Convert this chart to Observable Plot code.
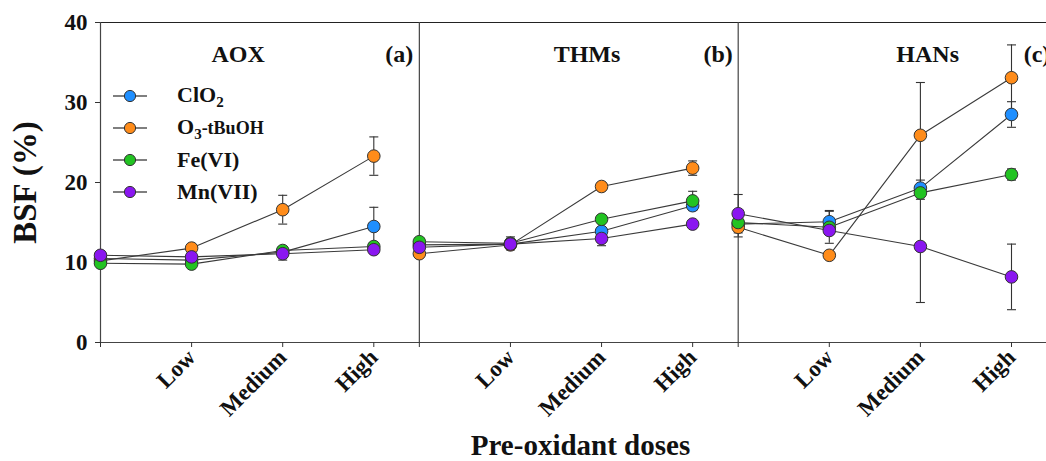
<!DOCTYPE html>
<html>
<head>
<meta charset="utf-8">
<script src="https://cdn.jsdelivr.net/npm/d3@7"></script>
<script src="https://cdn.jsdelivr.net/npm/@observablehq/plot@0.6"></script>
<style>
  html, body { margin: 0; padding: 0; background: #fff; overflow: hidden; }
  #wrap { position: relative; width: 1046px; height: 461px; font-family: "Liberation Serif", "Times New Roman", serif; }
  #legend { position: absolute; left: 0; top: 0; }
  .row { position: absolute; display: flex; align-items: center; font-weight: bold; font-size: 22px; color: #111; white-space: nowrap; }
  .row svg { display: block; }
  .row span.lab { position: absolute; left: 64px; }
</style>
</head>
<body>
<div id="wrap"><div id="legend"></div></div>
<script>
// ---------- data ----------
const doses = ["", "Low", "Medium", "High"];
const panels = ["AOX", "THMs", "HANs"];
const panelTags = ["(a)", "(b)", "(c)"];
const series = ["ClO2", "O3-tBuOH", "Fe(VI)", "Mn(VII)"];

// rows follow `series`; columns follow `doses`
const aoxMean = [
  [10.5, 10.3, 11.3, 14.5],
  [10.2, 11.8, 16.6, 23.3],
  [9.9, 9.8, 11.5, 12.0],
  [10.9, 10.7, 11.1, 11.6]
];
const aoxErr = [
  [0.3, 0.4, 0.5, 2.4],
  [0.3, 0.5, 1.8, 2.4],
  [0.3, 0.3, 0.4, 0.5],
  [0.3, 0.3, 0.8, 0.4]
];
const thmMean = [
  [12.2, 12.3, 13.9, 17.1],
  [11.1, 12.2, 19.5, 21.8],
  [12.6, 12.4, 15.4, 17.7],
  [11.9, 12.3, 13.0, 14.8]
];
const thmErr = [
  [0.4, 0.6, 0.4, 0.6],
  [0.3, 0.6, 0.4, 0.9],
  [0.4, 0.8, 0.4, 1.2],
  [0.3, 0.5, 0.9, 0.4]
];
const hanMean = [
  [14.8, 15.1, 19.3, 28.5],
  [14.4, 10.9, 25.9, 33.1],
  [15.0, 14.4, 18.7, 21.0],
  [16.1, 14.0, 12.0, 8.2]
];
const hanErr = [
  [0.6, 1.4, 1.0, 1.6],
  [1.2, 0.3, 6.6, 4.1],
  [0.5, 2.0, 0.8, 0.7],
  [2.4, 0.5, 7.0, 4.1]
];
const yTicks = [0, 10, 20, 30, 40];

// ---------- layout / style ----------
const colors = ["#1f8fff", "#ff8c1a", "#22c322", "#8a16f0"];
const panelSpan = 3.5;              // x units per panel
const titleOffset = [1.51, 1.84, 2.08];
const tagOffset = 3.28;
const serif = "'Liberation Serif', 'Times New Roman', serif";

const means = [aoxMean, thmMean, hanMean];
const errs = [aoxErr, thmErr, hanErr];

const data = [];
panels.forEach((pn, p) => {
  series.forEach((sn, s) => {
    doses.forEach((dn, d) => {
      data.push({
        panel: pn, series: sn, si: s, dose: d,
        x: p * panelSpan + d,
        y: means[p][s][d],
        lo: means[p][s][d] - errs[p][s][d],
        hi: means[p][s][d] + errs[p][s][d],
        key: pn + "|" + sn
      });
    });
  });
});

const tickVals = [];
const tickLabel = new Map();
panels.forEach((_, p) => doses.forEach((dn, d) => {
  const v = p * panelSpan + d;
  tickVals.push(v);
  tickLabel.set(v, dn);
}));
const boundaries = panels.map((_, p) => p * panelSpan);

const capSymbol = {
  draw(ctx, size) {
    const w = Math.sqrt(size / Math.PI);
    ctx.moveTo(-w, 0);
    ctx.lineTo(w, 0);
  }
};

const width = 1046, height = 461;
const marginLeft = 100, marginTop = 22, marginBottom = 119;
const xStep = 91.1;
const xMax = (width - marginLeft) / xStep;

const chart = Plot.plot({
  width, height,
  marginLeft, marginRight: 0, marginTop, marginBottom,
  style: { fontFamily: serif, background: "white", overflow: "visible" },
  x: { domain: [0, xMax], range: [marginLeft, width] },
  y: { domain: [0, 40] },
  marks: [
    // frame pieces
    Plot.ruleY([40], { stroke: "#222", strokeWidth: 1.2 }),
    Plot.ruleX(boundaries, { stroke: "#444", strokeWidth: 1.2 }),
    Plot.ruleY([0], { stroke: "#444", strokeWidth: 1.2 }),
    // axes
    Plot.axisY({
      ticks: yTicks, tickSize: 5, tickPadding: 8, label: null,
      fontSize: 23, fontWeight: "bold", stroke: "#333", fill: "#111"
    }),
    Plot.axisX({
      ticks: tickVals, tickFormat: v => tickLabel.get(v), tickSize: 5, tickPadding: 6,
      tickRotate: -45, label: null,
      fontSize: 23, fontWeight: "bold", stroke: "#333", fill: "#111"
    }),
    // axis titles
    Plot.text(["BSF (%)"], {
      frameAnchor: "left", textAnchor: "middle", dx: -75, rotate: -90,
      fontSize: 33, fontWeight: "bold", fill: "#111"
    }),
    Plot.text(["Pre-oxidant doses"], {
      frameAnchor: "bottom", dx: 7, dy: 112,
      fontSize: 29, fontWeight: "bold", fill: "#111"
    }),
    // panel titles
    Plot.text(panels, {
      x: (d, i) => i * panelSpan + titleOffset[i], frameAnchor: "top", dy: 22,
      fontSize: 24, fontWeight: "bold", fill: "#111"
    }),
    Plot.text(panelTags, {
      x: (d, i) => i * panelSpan + tagOffset, frameAnchor: "top", dy: 22,
      fontSize: 24, fontWeight: "bold", fill: "#111"
    }),
    // series lines
    Plot.line(data, { x: "x", y: "y", z: "key", stroke: "#3a3a3a", strokeWidth: 1.1 }),
    // error bars
    Plot.ruleX(data, { x: "x", y1: "lo", y2: "hi", stroke: "#333", strokeWidth: 1.1 }),
    Plot.dot(data, { x: "x", y: "lo", symbol: capSymbol, r: 4.5, fill: "none", stroke: "#333", strokeWidth: 1.1 }),
    Plot.dot(data, { x: "x", y: "hi", symbol: capSymbol, r: 4.5, fill: "none", stroke: "#333", strokeWidth: 1.1 }),
    // points
    Plot.dot(data, {
      x: "x", y: "y", r: 6.3,
      fill: d => colors[d.si], stroke: "#333", strokeWidth: 1
    })
  ]
});

const wrap = document.getElementById("wrap");
wrap.insertBefore(chart, wrap.firstChild);

// legend overlay
const legend = document.getElementById("legend");
const labelsHtml = [
  "ClO<sub style='font-size:15px;vertical-align:-5px'>2</sub>",
  "O<sub style='font-size:15px;vertical-align:-5px'>3</sub><span style='font-size:18px'>-tBuOH</span>",
  "Fe(VI)",
  "Mn(VII)"
];
series.forEach((s, i) => {
  const row = document.createElement("div");
  row.className = "row";
  row.style.left = "113px";
  row.style.top = (96 + i * 32 - 14) + "px";
  row.style.height = "28px";
  row.innerHTML =
    `<svg width="36" height="28"><line x1="0" x2="34" y1="14" y2="14" stroke="#555" stroke-width="1.3"/>` +
    `<circle cx="17" cy="14" r="5.6" fill="${colors[i]}" stroke="#333" stroke-width="1"/></svg>` +
    `<span class="lab">${labelsHtml[i]}</span>`;
  legend.appendChild(row);
});
</script>
</body>
</html>
